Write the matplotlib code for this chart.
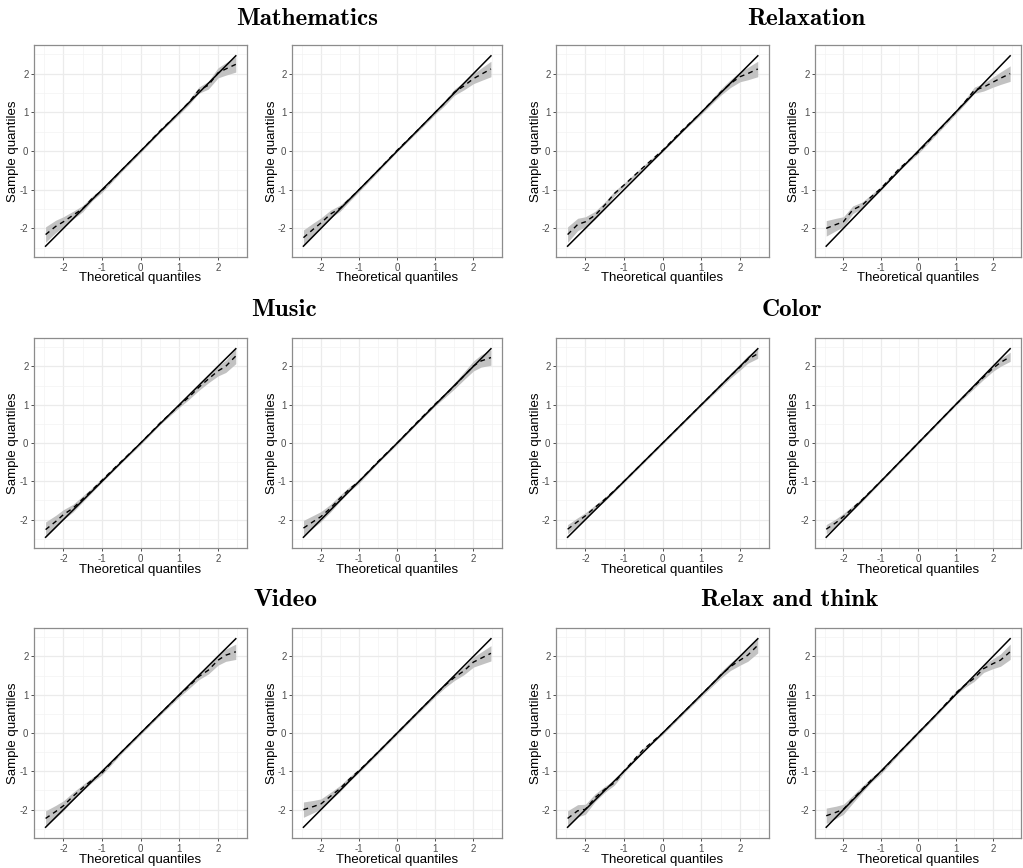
import numpy as np
import matplotlib
matplotlib.use("Agg")
import matplotlib.pyplot as plt
from matplotlib.ticker import MultipleLocator

plt.rcParams["font.family"] = ["Liberation Sans", "DejaVu Sans"]
plt.rcParams["axes.unicode_minus"] = False

# theoretical quantiles at which the sample curves were read
theoretical = [-2.46, -2.2, -2.0, -1.75, -1.5, -1.25, -1.0, -0.5, 0.0,
               0.5, 1.0, 1.25, 1.5, 1.75, 2.0, 2.2, 2.46]

groups = ["Mathematics", "Relaxation", "Music", "Color", "Video", "Relax and think"]

# sample quantiles, two panels per group
math_left = [-2.16, -1.95, -1.83, -1.66, -1.49, -1.22, -1.02, -0.50, 0.0,
             0.52, 1.0, 1.26, 1.57, 1.70, 2.02, 2.12, 2.24]
math_right = [-2.24, -2.02, -1.86, -1.63, -1.48, -1.24, -1.0, -0.5, 0.02,
              0.5, 1.0, 1.24, 1.52, 1.68, 1.87, 1.98, 2.12]
relax_left = [-2.16, -1.90, -1.83, -1.66, -1.40, -1.10, -0.88, -0.42, 0.02,
              0.53, 1.0, 1.26, 1.52, 1.74, 1.92, 2.0, 2.12]
relax_right = [-2.0, -1.90, -1.83, -1.52, -1.40, -1.18, -0.97, -0.45, -0.03,
               0.48, 1.0, 1.27, 1.57, 1.65, 1.78, 1.88, 2.0]
music_left = [-2.26, -2.05, -1.87, -1.70, -1.46, -1.22, -0.97, -0.48, 0.0,
              0.52, 0.98, 1.20, 1.45, 1.67, 1.88, 2.0, 2.27]
music_right = [-2.22, -2.05, -1.92, -1.70, -1.44, -1.20, -1.0, -0.48, 0.0,
               0.52, 1.02, 1.25, 1.49, 1.75, 2.01, 2.14, 2.23]
color_left = [-2.25, -2.05, -1.90, -1.68, -1.47, -1.24, -1.0, -0.5, 0.0,
              0.5, 1.0, 1.25, 1.5, 1.75, 1.98, 2.18, 2.33]
color_right = [-2.25, -2.08, -1.92, -1.70, -1.48, -1.24, -1.0, -0.5, 0.0,
               0.5, 1.0, 1.24, 1.48, 1.72, 1.95, 2.10, 2.25]
video_left = [-2.23, -2.05, -1.90, -1.65, -1.43, -1.22, -1.04, -0.5, 0.0,
              0.5, 0.99, 1.22, 1.47, 1.64, 1.90, 2.03, 2.12]
video_right = [-2.0, -1.92, -1.85, -1.65, -1.45, -1.20, -0.98, -0.5, 0.0,
               0.5, 1.0, 1.24, 1.45, 1.62, 1.85, 1.95, 2.08]
think_left = [-2.23, -2.03, -1.99, -1.69, -1.47, -1.30, -0.99, -0.43, 0.0,
              0.5, 1.0, 1.25, 1.51, 1.73, 1.90, 2.03, 2.29]
think_right = [-2.16, -2.07, -1.99, -1.73, -1.47, -1.22, -1.02, -0.5, 0.0,
               0.5, 1.04, 1.25, 1.43, 1.68, 1.81, 1.90, 2.12]

# half width of the grey envelope around each curve
band_wide = [0.20, 0.16, 0.13, 0.10, 0.08, 0.06, 0.05, 0.04, 0.04,
             0.04, 0.05, 0.06, 0.08, 0.10, 0.13, 0.16, 0.20]
band_narrow = [0.12, 0.10, 0.08, 0.06, 0.05, 0.04, 0.03, 0.03, 0.03,
               0.03, 0.03, 0.04, 0.05, 0.06, 0.08, 0.10, 0.12]

panels = [
    (math_left, band_wide), (math_right, band_wide),
    (relax_left, band_wide), (relax_right, band_wide),
    (music_left, band_wide), (music_right, band_wide),
    (color_left, band_narrow), (color_right, band_narrow),
    (video_left, band_wide), (video_right, band_wide),
    (think_left, band_wide), (think_right, band_wide),
]

W, H = 1023, 868
fig = plt.figure(figsize=(W / 100, H / 100), dpi=100)

col_edges = [(34, 247), (292, 502), (556, 769), (815, 1021)]
row_edges = [(45, 257), (338, 548), (628, 838)]
title_pos = [(307, 19), (806, 19), (284, 310), (792, 310), (285, 600), (790, 600)]

for i, (sample, band) in enumerate(panels):
    r, c = divmod(i, 4)
    x0, x1 = col_edges[c]
    y0, y1 = row_edges[r]
    ax = fig.add_axes([x0 / W, 1 - y1 / H, (x1 - x0) / W, (y1 - y0) / H])

    q = np.array(theoretical)
    s = np.array(sample)
    b = np.array(band)
    ax.fill_between(q, s - b, s + b, color="#c2c2c2", lw=0, zorder=2)
    ax.plot([q[0], q[-1]], [q[0], q[-1]], color="black", lw=1.1, zorder=3)
    ax.plot(q, s, color="black", lw=1.0, ls=(0, (3.5, 3)), zorder=4)

    ax.set_xlim(-2.76, 2.75)
    ax.set_ylim(-2.74, 2.74)
    ax.xaxis.set_major_locator(MultipleLocator(1))
    ax.yaxis.set_major_locator(MultipleLocator(1))
    ax.xaxis.set_minor_locator(MultipleLocator(0.5))
    ax.yaxis.set_minor_locator(MultipleLocator(0.5))
    ax.grid(which="major", color="#ebebeb", lw=0.9, zorder=0)
    ax.grid(which="minor", color="#f3f3f3", lw=0.5, zorder=0)
    ax.set_axisbelow(True)
    ax.tick_params(which="major", length=2.5, width=0.6, color="#333333",
                   labelsize=7, labelcolor="#4d4d4d", pad=1.5)
    ax.tick_params(which="minor", length=0)
    for sp in ax.spines.values():
        sp.set_color("#8c8c8c")
        sp.set_linewidth(0.9)

    ax.set_xlabel("Theoretical quantiles", fontsize=9.5, va="center")
    ax.set_ylabel("Sample quantiles", fontsize=9.5, va="center")
    ax.xaxis.set_label_coords(0.5, -21.5 / (y1 - y0))
    ax.yaxis.set_label_coords(-20.5 / (x1 - x0), 0.5)

for name, (tx, ty) in zip(groups, title_pos):
    fig.text(tx / W, 1 - ty / H, name, fontfamily="cmb10", fontsize=18,
             fontweight="bold", ha="center", va="center")

fig.savefig("out.png", dpi=100)
